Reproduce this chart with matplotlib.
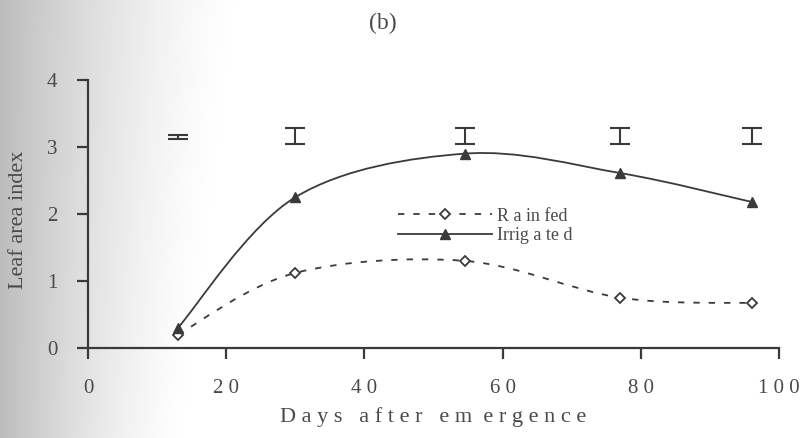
"""Leaf area index over days after emergence, rainfed vs irrigated (panel b)"""
import numpy as np
import matplotlib
matplotlib.use("Agg")
import matplotlib.pyplot as plt
from matplotlib.path import Path
from matplotlib.patches import PathPatch
from matplotlib.lines import Line2D

plt.rcParams['font.family'] = ['Liberation Serif', 'DejaVu Serif']

days = [13, 30, 54.5, 77, 96]
rainfed = [0.2, 1.12, 1.3, 0.75, 0.67]
irrigated = [0.3, 2.25, 2.9, 2.61, 2.18]

# LSD bars drawn above the curves
lsd_days = [13, 30, 54.5, 77, 96]
lsd_mid = [3.155, 3.17, 3.17, 3.17, 3.17]
lsd_half = [0.03, 0.12, 0.12, 0.12, 0.12]

xticks = [0, 20, 40, 60, 80, 100]
xticklabels = ["0", "2 0", "4 0", "6 0", "8 0", "1 0 0"]
yticks = [0, 1, 2, 3, 4]

ink = '#3a3a3a'
txt = '#4a4a4a'


def smooth_path(x, y):
    # cardinal spline through the points, as Bezier segments
    p = np.column_stack([x, y]).astype(float)
    ext = np.vstack([p[0], p, p[-1]])
    verts = [p[0]]
    codes = [Path.MOVETO]
    for i in range(len(p) - 1):
        p0, p1, p2, p3 = ext[i], ext[i + 1], ext[i + 2], ext[i + 3]
        c1 = p1 + (p2 - p0) / 6.0
        c2 = p2 - (p3 - p1) / 6.0
        verts += [c1, c2, p2]
        codes += [Path.CURVE4] * 3
    return Path(verts, codes)


fig = plt.figure(figsize=(8, 4.38), dpi=100)

# grey scan shadow on the left margin
bg = fig.add_axes([0, 0, 1, 1], zorder=-1)
gx = np.linspace(0, 1, 400)[None, :]
gy = np.linspace(0, 1, 220)[:, None]
width = 0.24 + 0.07 * (1 - gy)
shade = 1 - 0.26 * np.clip(1 - gx / width, 0, 1) ** 1.5
bg.imshow(shade, cmap='gray', vmin=0, vmax=1, aspect='auto',
          extent=[0, 1, 0, 1], origin='upper')
bg.axis('off')

ax = fig.add_axes([0.11, 0.2055, 0.864, 0.612])
ax.patch.set_alpha(0)

ax.add_patch(PathPatch(smooth_path(days, rainfed), fill=False, edgecolor=ink,
                       lw=1.3, linestyle=(0, (3.5, 5))))
ax.add_patch(PathPatch(smooth_path(days, irrigated), fill=False, edgecolor=ink,
                       lw=1.3))
ax.plot(days, rainfed, linestyle='none', marker='D', ms=5, mfc='white',
        mec=ink, mew=1.3)
ax.plot(days, irrigated, linestyle='none', marker='^', ms=6.5, color=ink)

ax.errorbar(lsd_days, lsd_mid, yerr=lsd_half, fmt='none', ecolor=ink,
            elinewidth=1.5, capsize=7, capthick=1.5)

ax.set_xlim(0, 100)
ax.set_ylim(0, 4)
ax.set_xticks(xticks)
ax.set_xticklabels(xticklabels)
ax.set_yticks(yticks)
for s in ['top', 'right']:
    ax.spines[s].set_visible(False)
for s in ['left', 'bottom']:
    ax.spines[s].set_color(ink)
    ax.spines[s].set_linewidth(1.6)
ax.tick_params(axis='both', colors=ink, width=1.6, length=8,
               labelsize=15, labelcolor=txt)
ax.tick_params(axis='x', pad=14)
ax.tick_params(axis='y', pad=14)

ax.set_xlabel("D a y s   a f t e r   e m  e r g e n c e", fontsize=16,
              color=txt)
ax.xaxis.set_label_coords(0.5, -0.22)
ax.set_ylabel("Leaf area index", fontsize=16, color=txt)
ax.yaxis.set_label_coords(-0.087, 0.48)

fig.text(0.479, 0.947, "(b)", fontsize=17, color=txt,
         ha='center', va='center')

handles = [
    Line2D([], [], color=ink, lw=1.3, linestyle=(0, (3.5, 5)), marker='D',
           ms=5, mfc='white', mec=ink, mew=1.3),
    Line2D([], [], color=ink, lw=1.3, marker='^', ms=6.5),
]
ax.legend(handles, ["R a in fed", "Irrig a te d"], loc='center left',
          bbox_to_anchor=(0.435, 0.455), frameon=False, fontsize=13,
          handlelength=5.2, handletextpad=0.3, labelspacing=0.15,
          borderpad=0, labelcolor=txt)

fig.savefig("out.png", dpi=100)
